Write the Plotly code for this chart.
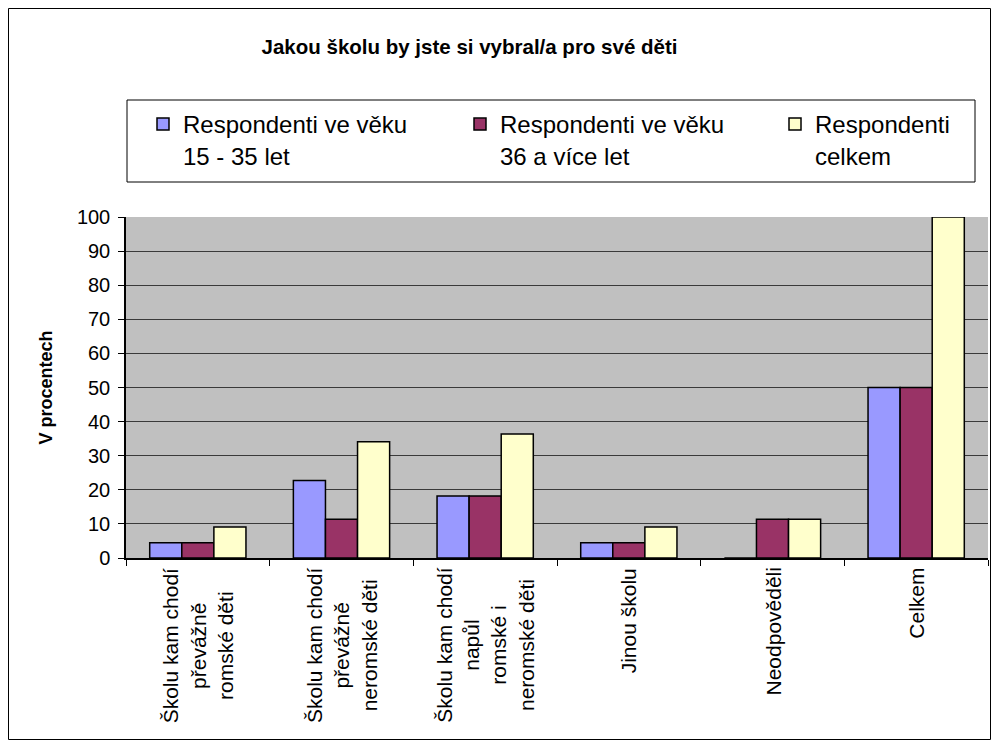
import plotly.graph_objects as go

# Data (percent)
categories = [
    "Školu kam chodí<br>převážně<br>romské děti",
    "Školu kam chodí<br>převážně<br>neromské děti",
    "Školu kam chodí<br>napůl<br>romské i<br>neromské děti",
    "Jinou školu",
    "Neodpověděli",
    "Celkem",
]
series_names = [
    "Respondenti ve věku<br>15 - 35 let",
    "Respondenti ve věku<br>36 a více let",
    "Respondenti<br>celkem",
]
young = [4.5, 22.7, 18.2, 4.5, 0, 50]
older = [4.5, 11.4, 18.2, 4.5, 11.4, 50]
total = [9.1, 34.1, 36.4, 9.1, 11.4, 100]
colors = ["#9999FF", "#993366", "#FFFFCC"]

FONT = "Liberation Sans, Arial, sans-serif"

# the page body has an 8px margin, so the figure is shrunk by that much
OFF = 8
FW, FH = 999 - 2 * OFF, 748 - 2 * OFF
L, T = 126 - OFF, 217 - OFF
R, B = FW - (988 - OFF), FH - (558 - OFF)
W, H = FW - L - R, FH - T - B


def px_x(px):
    # screenshot pixel -> paper x
    return (px - OFF - L) / W


def px_y(py):
    # screenshot pixel -> paper y
    return (FH - B - (py - OFF)) / H


legend_names = ["legend", "legend2", "legend3"]
legend_x = [143, 460, 775]

fig = go.Figure()
for name, vals, col, lg in zip(series_names, [young, older, total], colors, legend_names):
    fig.add_trace(go.Bar(
        x=categories, y=vals, name=name, legend=lg,
        marker=dict(color=col, line=dict(color="black", width=1.5)),
    ))

# rotated category labels, centred lines like the original
for cat in categories:
    fig.add_annotation(
        x=cat, y=px_y(566), xref="x", yref="paper",
        text=cat, textangle=-90, showarrow=False,
        xanchor="center", yanchor="top", align="center",
        font=dict(family=FONT, size=21, color="black"),
    )

# y axis title
fig.add_annotation(
    x=px_x(45), y=0.5, xref="paper", yref="paper",
    text="<b>V procentech</b>", textangle=-90, showarrow=False,
    xanchor="center", yanchor="middle",
    font=dict(family=FONT, size=18, color="black"),
)

# chart border and legend box
fig.add_shape(type="rect", xref="paper", yref="paper",
              x0=px_x(8.5), x1=px_x(990.5), y0=px_y(739.5), y1=px_y(8.5),
              line=dict(color="black", width=1), layer="below")
fig.add_shape(type="rect", xref="paper", yref="paper",
              x0=px_x(127), x1=px_x(975), y0=px_y(182), y1=px_y(100),
              line=dict(color="black", width=1), layer="below")

legend_style = dict(xanchor="left", yanchor="top", valign="top", itemwidth=30,
                    bgcolor="rgba(0,0,0,0)",
                    font=dict(family=FONT, size=24, color="black"))
legends = {}
for lg, lx in zip(legend_names, legend_x):
    legends[lg] = dict(x=px_x(lx), y=px_y(102), **legend_style)

fig.update_layout(
    width=FW, height=FH,
    margin=dict(l=L, r=R, t=T, b=B),
    paper_bgcolor="white",
    plot_bgcolor="#C0C0C0",
    barmode="group", bargap=0.33, bargroupgap=0,
    title=dict(text="<b>Jakou školu by jste si vybral/a pro své děti</b>",
               x=(469.5 - OFF) / FW, y=1 - (47 - OFF) / FH,
               xanchor="center", yanchor="middle",
               font=dict(family=FONT, size=20.5, color="black")),
    xaxis=dict(showticklabels=False, ticks="outside", tickson="boundaries",
               ticklen=6, tickcolor="black", showline=True, linecolor="black",
               linewidth=1.5, showgrid=False),
    yaxis=dict(range=[0, 100], dtick=10, ticks="outside", ticklen=6,
               tickcolor="black", showline=True, linecolor="black",
               linewidth=1.5, ticklabelstandoff=4,
               showgrid=True, gridcolor="#3a3a3a", gridwidth=1,
               zeroline=False,
               tickfont=dict(family=FONT, size=20, color="black")),
    showlegend=True,
    **legends,
)

fig.write_html("out.html")
